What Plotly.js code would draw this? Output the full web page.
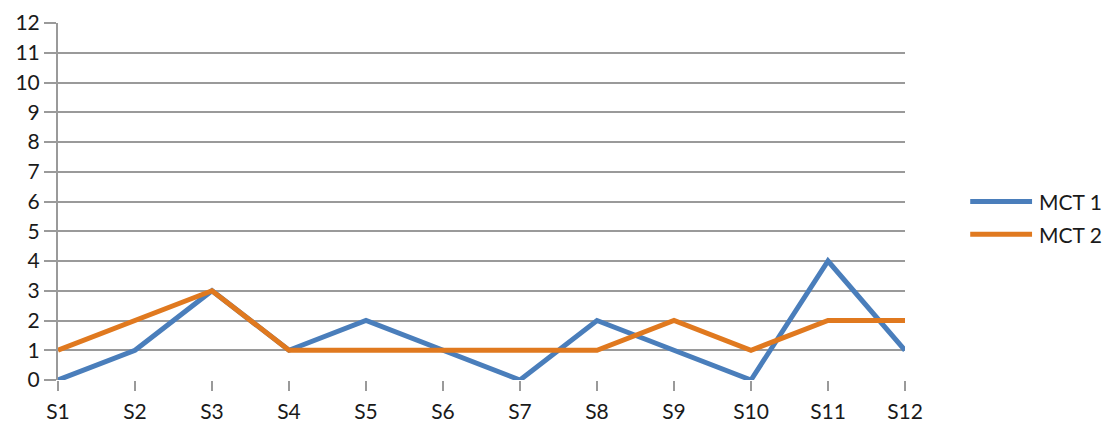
<!DOCTYPE html>
<html>
<head>
<meta charset="utf-8">
<script src="https://cdn.plot.ly/plotly-3.0.1.min.js"></script>
<style>
  html, body { margin: 0; padding: 0; background: #ffffff; }
  #chart { width: 1113px; height: 423px; }
</style>
</head>
<body>
<div id="chart"></div>
<script>
// Categories along the x axis
const samples = ['S1', 'S2', 'S3', 'S4', 'S5', 'S6', 'S7', 'S8', 'S9', 'S10', 'S11', 'S12'];

// Series values
const mct1 = [0, 1, 3, 1, 2, 1, 0, 2, 1, 0, 4, 1];
const mct2 = [1, 2, 3, 1, 1, 1, 1, 1, 2, 1, 2, 2];

// Series names and colours
const seriesNames = ['MCT 1', 'MCT 2'];
const seriesColors = ['#4a7ebb', '#e0791f'];

// Y tick values
const yTicks = [0, 1, 2, 3, 4, 5, 6, 7, 8, 9, 10, 11, 12];

const font = { family: 'Lato, "Open Sans", sans-serif', size: 21, color: '#1a1a1a' };
const gridColor = '#9a9a9a';

const traces = [mct1, mct2].map((vals, i) => ({
  type: 'scatter',
  mode: 'lines',
  x: samples,
  y: vals,
  name: seriesNames[i],
  line: { color: seriesColors[i], width: 5, shape: 'linear' },
  showlegend: false,
  hoverinfo: 'x+y+name'
}));

// Legend drawn as short line segments with labels to the right of the plot
const legendY = [0.50, 0.408];
const legendShapes = seriesNames.map((n, i) => ({
  type: 'line', xref: 'paper', yref: 'paper',
  x0: 1.077, x1: 1.150,
  y0: legendY[i], y1: legendY[i],
  line: { color: seriesColors[i], width: 5 }
}));
const legendLabels = seriesNames.map((n, i) => ({
  xref: 'paper', yref: 'paper',
  x: 1.156, y: legendY[i],
  xanchor: 'left', yanchor: 'middle',
  text: n, showarrow: false,
  font: font
}));

const layout = {
  width: 1113,
  height: 423,
  margin: { l: 58, r: 208, t: 23, b: 43, pad: 0 },
  paper_bgcolor: '#ffffff',
  plot_bgcolor: '#ffffff',
  font: font,
  showlegend: false,
  xaxis: {
    type: 'category',
    range: [0, samples.length - 1],
    showgrid: false,
    zeroline: false,
    showline: false,
    ticks: 'outside',
    ticklen: 10,
    tickwidth: 2,
    tickcolor: gridColor,
    tickfont: font,
    ticklabelstandoff: 3,
    fixedrange: true
  },
  yaxis: {
    range: [0, 12],
    tickvals: yTicks,
    ticktext: yTicks.map(String),
    showgrid: true,
    gridcolor: gridColor,
    gridwidth: 2,
    zeroline: false,
    showline: true,
    linecolor: gridColor,
    linewidth: 2,
    ticks: 'outside',
    ticklen: 12,
    tickwidth: 2,
    tickcolor: gridColor,
    tickfont: font,
    ticklabelstandoff: 0,
    fixedrange: true
  },
  shapes: legendShapes,
  annotations: legendLabels
};

Plotly.newPlot('chart', traces, layout, { displayModeBar: false, staticPlot: true });
</script>
</body>
</html>
